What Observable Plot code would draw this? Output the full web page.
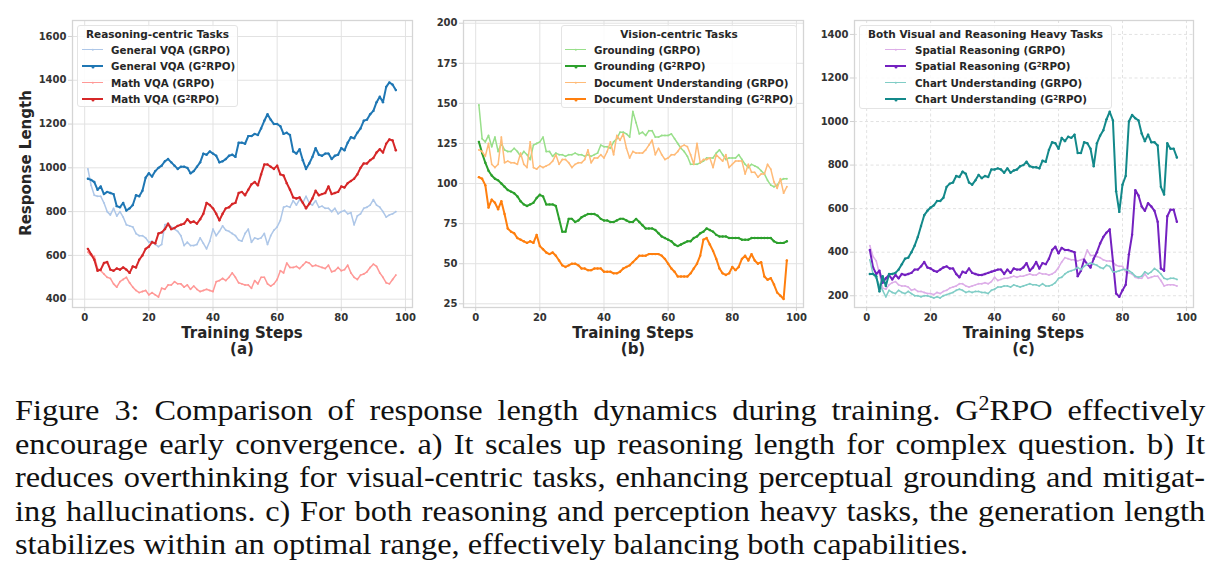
<!DOCTYPE html>
<html><head><meta charset="utf-8">
<script src="https://cdn.jsdelivr.net/npm/d3@7"></script>
<script src="https://cdn.jsdelivr.net/npm/@observablehq/plot@0.6"></script>
<style>
body{margin:0;background:#fff;}
#fig{position:relative;width:1223px;height:575px;overflow:hidden;font-family:"DejaVu Sans",sans-serif;}
.panel{position:absolute;top:0;}
.lbl{position:absolute;font-weight:bold;color:#262626;white-space:nowrap;transform:translate(-50%,-50%);}
.legend{position:absolute;background:rgba(255,255,255,0.85);border:1px solid #e4e4e4;border-radius:3px;box-sizing:border-box;color:#262626;font-weight:bold;}
.legend .t{position:absolute;left:0;right:0;top:0;height:16px;line-height:16px;text-align:center;font-size:10.5px;white-space:nowrap;}
.legend .row{position:absolute;height:16px;line-height:16px;font-size:10.3px;white-space:nowrap;}
.legend .sw{position:absolute;top:7px;height:0;}
.legend .sw i{position:absolute;left:50%;top:50%;border-radius:50%;transform:translate(-50%,-50%);}
sup{font-size:0.68em;line-height:0;vertical-align:0.5em;}
#cap{position:absolute;left:15px;top:393px;width:1104px;font-family:"Liberation Serif",serif;font-size:30px;line-height:33.5px;color:#111;transform:scaleX(1.078);transform-origin:0 0;}
#cap div{text-align:justify;text-align-last:justify;white-space:nowrap;}
#cap div.last{text-align-last:left;}
</style></head>
<body><div id="fig"></div>
<script>
const steps = Array.from({length: 97}, (_, i) => i + 1);

// (a) Reasoning-centric tasks
const generalVqaGrpo = [995,920,875,870,870,840,800,785,815,780, 800,775,740,735,730,700,690,690,680,660, 665,650,640,650,740,745,730,720,710,690, 645,660,645,645,650,680,655,630,665,720, 690,710,735,715,710,700,690,670,665,700, 720,660,680,675,680,700,650,690,715,730, 760,820,825,820,850,830,855,840,870,840, 830,850,820,825,815,815,800,815,790,800, 805,790,795,740,780,790,815,820,830,855, 830,820,800,775,785,790,800];
const generalVqaG2 = [950,945,935,900,915,880,890,885,880,825, 820,840,805,815,830,875,870,895,955,975, 960,985,1000,1010,1030,1040,1025,1010,995,1005, 1005,1000,975,985,1005,1025,1065,1060,1075,1065, 1055,1025,1030,1040,1055,1060,1050,1115,1115,1110, 1145,1145,1155,1150,1180,1215,1245,1220,1200,1200, 1190,1155,1160,1150,1075,1065,1085,1035,995,1020, 1050,1090,1060,1055,1065,1065,1040,1055,1060,1090, 1080,1115,1140,1135,1160,1180,1215,1220,1245,1260, 1300,1325,1300,1370,1390,1380,1355];
const mathVqaGrpo = [615,600,595,540,530,515,500,495,470,455, 480,490,500,475,455,440,430,435,440,420, 430,420,410,450,445,465,465,480,470,470, 455,465,445,460,445,435,440,445,440,435, 480,485,495,485,500,520,500,475,470,465, 465,450,485,470,500,500,470,460,470,490, 530,520,565,545,545,550,540,555,570,565, 550,555,550,545,540,555,525,530,545,530, 535,555,520,500,490,510,515,525,545,560, 550,520,500,475,470,490,510];
const mathVqaG2 = [630,605,580,530,535,565,570,535,530,540, 535,545,535,520,550,545,580,600,630,640, 660,655,700,705,720,745,720,725,735,740, 745,765,750,755,745,765,790,840,830,815, 790,760,790,815,820,835,840,885,890,875, 900,925,935,920,970,1015,1015,1005,995,1010, 970,965,930,900,865,860,865,840,815,835, 860,895,875,880,885,915,880,885,890,915, 910,930,940,950,970,1000,1020,1020,1035,1045, 1070,1085,1070,1110,1130,1125,1080];

// (b) Vision-centric tasks
const groundingGrpo = [149,128,126,130,123,129,120,125,121,120, 120,122,120,117,120,118,115,124,125,126, 129,120,120,117,119,118,118,117,118,118, 119,118,118,117,118,117,118,119,124,123, 123,122,126,128,132,132,131,129,145,138, 131,132,130,133,133,129,129,130,130,130, 131,128,125,122,120,117,112,112,112,113, 114,116,116,116,119,121,118,115,116,116, 116,118,115,112,110,112,111,110,108,106, 102,99,98,99,102,103,103];
const groundingG2 = [126,119,113,108,105,103,102,100,98,96, 95,94,92,89,87,86,87,88,91,93, 92,87,87,87,86,78,70,70,78,78, 76,77,79,80,81,81,81,80,78,77, 77,76,76,77,78,78,77,76,76,78, 76,74,72,72,72,71,69,67,66,65, 64,62,61,62,63,64,64,66,67,69, 70,72,71,70,68,67,67,67,66,66, 66,66,65,65,65,66,66,66,66,66, 66,66,64,63,63,63,64];
const docGrpo = [121,120,117,125,112,110,112,129,113,114, 113,113,112,119,112,110,126,110,109,111, 110,111,112,114,118,112,115,115,113,110, 112,113,113,115,121,113,116,116,118,116, 120,126,118,130,127,131,122,116,120,119, 119,119,121,124,127,118,122,118,115,116, 118,118,120,123,124,123,118,112,125,113, 115,115,116,110,118,116,114,118,110,112, 114,114,114,106,112,107,107,104,106,106, 112,109,101,97,103,94,98];
const docG2 = [104,103,99,85,90,88,84,89,81,72, 70,69,66,65,64,63,64,63,68,61, 59,57,56,57,55,52,49,48,49,50, 50,49,47,47,46,46,47,47,47,45, 45,45,44,44,45,47,48,49,51,53, 55,55,55,56,56,56,56,55,53,50, 47,45,42,42,42,42,44,47,50,55, 65,66,62,58,53,47,44,43,44,48, 46,48,53,55,52,56,52,50,51,42, 40,41,37,32,30,28,52];

// (c) Both visual and reasoning heavy tasks
const spatialGrpo = [430,380,360,300,235,230,250,260,265,250, 245,245,240,225,230,220,220,215,210,210, 205,215,210,220,225,235,240,245,255,255, 245,240,245,250,255,255,260,255,265,285, 270,275,280,280,285,290,285,290,290,295, 300,295,295,305,300,300,295,300,310,330, 355,375,370,365,365,360,365,370,410,385, 385,380,375,365,360,360,355,340,335,335, 310,305,300,285,280,280,300,280,285,290, 290,270,245,250,250,250,245];
const spatialG2 = [410,330,300,315,260,280,295,275,295,280, 300,295,300,305,320,320,335,355,330,325, 315,310,320,330,335,325,325,300,285,310, 305,325,305,300,295,295,300,305,310,315, 320,320,300,320,305,325,320,320,330,350, 315,330,355,325,350,345,370,410,425,395, 420,410,410,405,400,290,315,365,345,330, 370,400,440,470,490,505,360,210,195,225, 250,390,480,685,660,610,590,625,610,590, 540,325,315,565,595,595,540];
const chartGrpo = [365,300,280,250,225,195,225,215,210,225, 215,210,220,210,200,200,195,200,200,195, 190,195,190,200,205,210,215,225,230,225, 215,220,215,220,220,215,215,210,225,230, 240,240,245,245,240,250,245,240,245,250, 255,250,250,245,255,245,245,250,260,280, 285,300,310,315,320,330,320,335,345,350, 345,340,330,325,340,335,310,310,315,320, 320,315,305,290,285,290,310,300,310,325, 315,300,280,275,280,280,275];
const chartG2 = [300,300,290,220,290,245,300,300,305,320, 345,370,375,400,430,470,520,570,590,605, 615,635,635,650,700,715,720,750,745,770, 760,720,710,730,755,740,750,745,780,780, 785,780,765,785,765,775,780,795,800,815, 795,790,790,785,820,815,870,905,900,875, 925,910,930,925,940,855,855,905,900,875, 795,900,935,960,1010,1045,1005,680,585,710, 750,1000,1030,1015,1005,945,910,940,905,905, 890,700,665,900,875,875,835];

const xTicks = [0, 20, 40, 60, 80, 100];
const yTicksA = [400, 600, 800, 1000, 1200, 1400, 1600];
const yTicksB = [25, 50, 75, 100, 125, 150, 175, 200];
const yTicksC = [200, 400, 600, 800, 1000, 1200, 1400];

const panels = [
  {id:"a", left:0, width:420, mL:72, mR:8, yDomain:[362,1673], yTicks:yTicksA, dashed:false,
   title:"Reasoning-centric Tasks",
   series:[
     {name:"General VQA (GRPO)", v:generalVqaGrpo, color:"#aec7e8", strong:false},
     {name:"General VQA (G<sup>2</sup>RPO)", v:generalVqaG2, color:"#1f77b4", strong:true},
     {name:"Math VQA (GRPO)", v:mathVqaGrpo, color:"#ff9896", strong:false},
     {name:"Math VQA (G<sup>2</sup>RPO)", v:mathVqaG2, color:"#d62728", strong:true}],
   legend:{left:77, top:25, width:161, height:82, sw:4, tx:33}},
  {id:"b", left:420, width:390, mL:43, mR:7, yDomain:[22.7,201.7], yTicks:yTicksB, dashed:false,
   title:"Vision-centric Tasks",
   series:[
     {name:"Grounding (GRPO)", v:groundingGrpo, color:"#98df8a", strong:false},
     {name:"Grounding (G<sup>2</sup>RPO)", v:groundingG2, color:"#2ca02c", strong:true},
     {name:"Document Understanding (GRPO)", v:docGrpo, color:"#ffbb78", strong:false},
     {name:"Document Understanding (G<sup>2</sup>RPO)", v:docG2, color:"#ff7f0e", strong:true}],
   legend:{left:561, top:25, width:236, height:83, sw:3, tx:32}},
  {id:"c", left:815, width:408, mL:39, mR:30, yDomain:[146,1464], yTicks:yTicksC, dashed:true,
   title:"Both Visual and Reasoning Heavy Tasks",
   series:[
     {name:"Spatial Reasoning (GRPO)", v:spatialGrpo, color:"#ddaee8", strong:false},
     {name:"Spatial Reasoning (G<sup>2</sup>RPO)", v:spatialG2, color:"#7421c0", strong:true},
     {name:"Chart Understanding (GRPO)", v:chartGrpo, color:"#80cdc6", strong:false},
     {name:"Chart Understanding (G<sup>2</sup>RPO)", v:chartG2, color:"#13898a", strong:true}],
   legend:{left:859, top:25, width:253, height:84, sw:25, tx:55}}
];

const fig = document.getElementById("fig");
const H = 360, mT = 20, mB = 53;
const fmt = d3.format("d");

for (const p of panels) {
  const gridOpts = {stroke:"#e2e2e2", strokeOpacity:1, strokeWidth:1, strokeDasharray: p.dashed ? "3,2.5" : null};
  const marks = [
    Plot.gridX(xTicks, gridOpts),
    Plot.gridY(p.yTicks, gridOpts),
    Plot.frame({stroke:"#d5d5d5", strokeWidth:1.3})
  ];
  for (const s of p.series) {
    const data = steps.map((st, i) => ({step: st, value: s.v[i]}));
    marks.push(Plot.line(data, {x:"step", y:"value", stroke:s.color, strokeWidth: s.strong ? 2 : 1.5, curve:"linear"}));
    marks.push(Plot.dot(data, {x:"step", y:"value", fill:s.color, r: s.strong ? 1.2 : 0.9, stroke:null}));
  }
  marks.push(Plot.axisX(xTicks, {tickSize:4, tickPadding:2, tickFormat:fmt, label:null, stroke:"#d0d0d0", fill:"#333", fontWeight:"bold", fontSize:10}));
  marks.push(Plot.axisY(p.yTicks, {tickSize:4, tickPadding:2, tickFormat:fmt, label:null, stroke:"#d0d0d0", fill:"#333", fontWeight:"bold", fontSize:10}));
  const svg = Plot.plot({
    width: p.width, height: H, marginLeft: p.mL, marginRight: p.mR, marginTop: mT, marginBottom: mB,
    style:{fontFamily:"DejaVu Sans", fontSize:"10px", background:"transparent", overflow:"visible"},
    x:{domain:[-3.8, 102.2]},
    y:{domain:p.yDomain},
    marks
  });
  svg.classList.add("panel");
  svg.style.left = p.left + "px";
  fig.appendChild(svg);

  const cx = p.left + p.mL + (p.width - p.mL - p.mR) / 2;
  const l1 = document.createElement("div");
  l1.className = "lbl"; l1.style.left = cx + "px"; l1.style.top = "333px"; l1.style.fontSize = "15px";
  l1.textContent = "Training Steps"; fig.appendChild(l1);
  const l2 = document.createElement("div");
  l2.className = "lbl"; l2.style.left = cx + "px"; l2.style.top = "349px"; l2.style.fontSize = "15px";
  l2.textContent = "(" + p.id + ")"; fig.appendChild(l2);

  const L = p.legend;
  const box = document.createElement("div");
  box.className = "legend";
  Object.assign(box.style, {left:L.left+"px", top:L.top+"px", width:L.width+"px", height:L.height+"px"});
  let html = `<div class="t">${p.title}</div>`;
  p.series.forEach((s, i) => {
    const top = 16 + i * 16 + (i >= 1 ? 0.3 * i : 0);
    const w = s.strong ? 2 : 1.5;
    html += `<div class="row" style="top:${top}px;left:0;right:0;">
      <span class="sw" style="left:${L.sw}px;width:21px;border-top:${w}px solid ${s.color};"><i style="width:${s.strong?3:2.4}px;height:${s.strong?3:2.4}px;background:${s.color};"></i></span>
      <span style="position:absolute;left:${L.tx}px;">${s.name}</span></div>`;
  });
  box.innerHTML = html;
  fig.appendChild(box);
}

const yl = document.createElement("div");
yl.className = "lbl";
Object.assign(yl.style, {left:"26px", top:"163px", fontSize:"15px", transform:"translate(-50%,-50%) rotate(-90deg)"});
yl.textContent = "Response Length";
fig.appendChild(yl);

const captionLines = [
  "Figure 3: Comparison of response length dynamics during training. G<sup>2</sup>RPO effectively",
  "encourage early convergence. a) It scales up reasoning length for complex question. b) It",
  "reduces overthinking for visual-centric tasks, enhancing perceptual grounding and mitigat-",
  "ing hallucinations. c) For both reasoning and perception heavy tasks, the generation length",
  "stabilizes within an optimal range, effectively balancing both capabilities."
];
const cap = document.createElement("div");
cap.id = "cap";
cap.innerHTML = captionLines.map((t, i) => `<div class="${i === captionLines.length - 1 ? "last" : ""}">${t}</div>`).join("");
fig.appendChild(cap);
</script>
</body></html>
